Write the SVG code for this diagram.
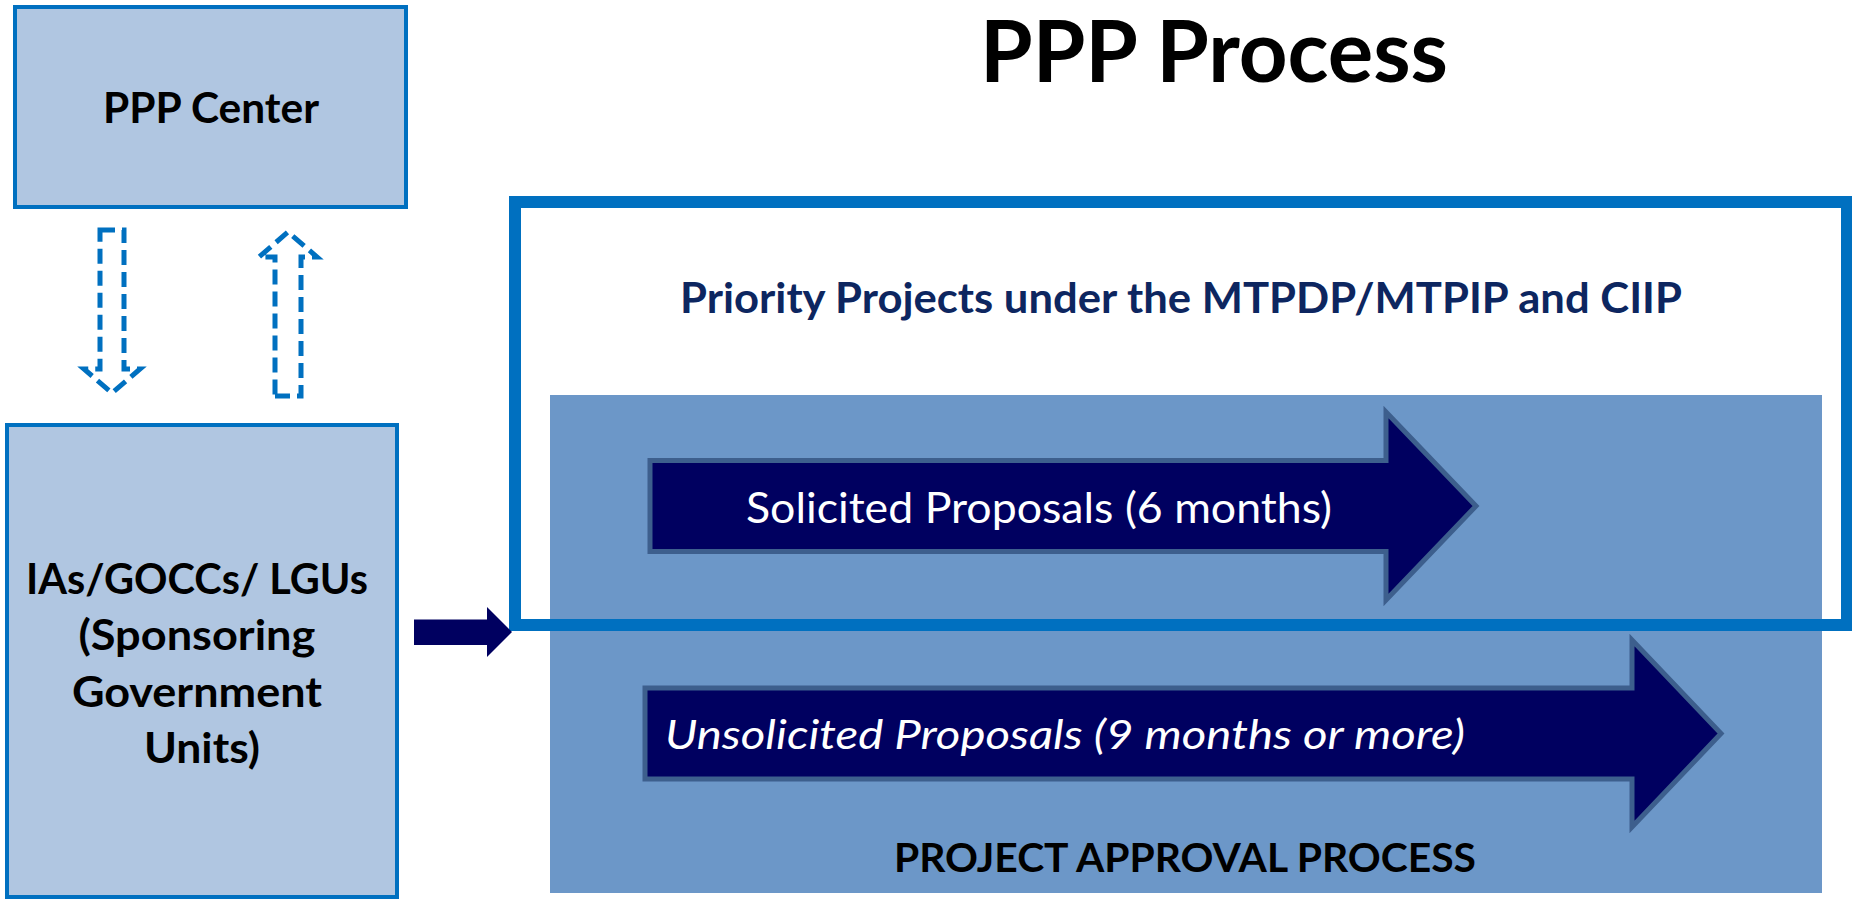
<svg xmlns="http://www.w3.org/2000/svg" width="1852" height="900" viewBox="0 0 1852 900">
  <style>
    text { font-family: Lato, "Liberation Sans", sans-serif; }
    .bold { font-weight: bold; }
    .box { fill: #B0C6E1; stroke: #0070C0; stroke-width: 4; }
    .dash { fill: none; stroke: #0070C0; stroke-width: 5; stroke-dasharray: 15 7; }
    .bigarrow { fill: #000060; stroke: #3D5F8D; stroke-width: 5; }
  </style>
  <rect width="1852" height="900" fill="#FFFFFF"/>

  <g id="title">
    <text x="980" y="82" font-size="86" class="bold" fill="#000000" textLength="468" lengthAdjust="spacingAndGlyphs">PPP Process</text>
  </g>

  <g id="ppp-center">
    <rect class="box" x="15" y="7" width="391" height="200"/>
    <text x="211" y="123" font-size="42" class="bold" fill="#000000" text-anchor="middle" textLength="216" lengthAdjust="spacingAndGlyphs">PPP Center</text>
  </g>

  <g id="sponsoring-units">
    <rect class="box" x="7" y="425" width="390" height="472"/>
    <text font-size="42" class="bold" fill="#000000" text-anchor="middle">
      <tspan x="202" y="594" textLength="342" lengthAdjust="spacingAndGlyphs">IAs/GOCCs/ LGUs</tspan>
      <tspan x="202" y="650" textLength="237" lengthAdjust="spacingAndGlyphs">(Sponsoring</tspan>
      <tspan x="202" y="707" textLength="250" lengthAdjust="spacingAndGlyphs">Government</tspan>
      <tspan x="202" y="763" textLength="116" lengthAdjust="spacingAndGlyphs">Units)</tspan>
    </text>
  </g>

  <g id="project-approval-process">
    <rect x="550" y="395" width="1272" height="498" fill="#6C97C8"/>
    <text x="1185" y="872" font-size="41" class="bold" fill="#000000" text-anchor="middle" textLength="582" lengthAdjust="spacingAndGlyphs">PROJECT APPROVAL PROCESS</text>
  </g>

  <g id="solicited">
    <path class="bigarrow" d="M650 460.5 H1386 V412 L1476 506 L1386 600 V551.5 H650 Z"/>
    <text x="746" y="523" font-size="43" fill="#FFFFFF" textLength="586" lengthAdjust="spacingAndGlyphs">Solicited Proposals (6 months)</text>
  </g>

  <g id="unsolicited">
    <path class="bigarrow" d="M645 688 H1632 V640 L1721 733.5 L1632 827 V779 H645 Z"/>
    <text x="665" y="749" font-size="41" font-style="italic" fill="#FFFFFF" textLength="800" lengthAdjust="spacingAndGlyphs">Unsolicited Proposals (9 months or more)</text>
  </g>

  <g id="priority-projects">
    <rect x="515" y="202" width="1332" height="423" fill="none" stroke="#0070C0" stroke-width="12"/>
    <text x="1181" y="313" font-size="42" class="bold" fill="#0D2660" text-anchor="middle" textLength="1002" lengthAdjust="spacingAndGlyphs">Priority Projects under the MTPDP/MTPIP and CIIP</text>
  </g>

  <g id="connectors">
    <path class="dash" d="M100 230 H124 V369 H140 L112 393 L84 369 H100 Z"/>
    <path class="dash" d="M275 396 H301 V257 H317 L288 232 L259 257 H275 Z"/>
    <path d="M414 619.5 H487 V607 L512 632 L487 657 V645 H414 Z" fill="#000060"/>
  </g>
</svg>
